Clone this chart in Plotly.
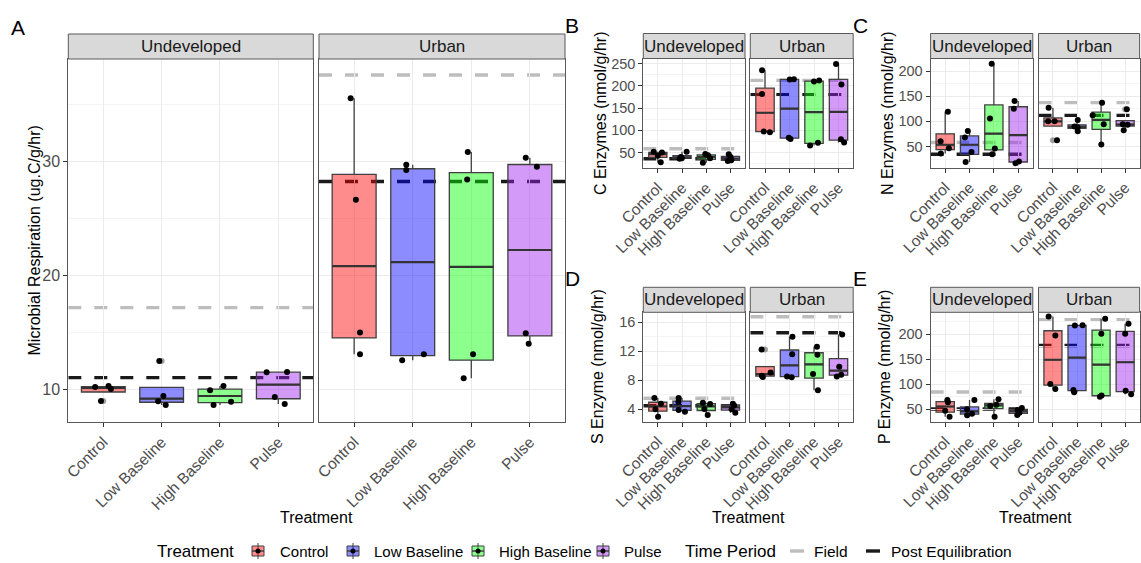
import numpy as np
import plotly.graph_objects as go

W, H = 1141, 563
FONT = "Liberation Sans, Arial, Helvetica, sans-serif"

TREATMENTS = ["Control", "Low Baseline", "High Baseline", "Pulse"]
SITES = ["Undeveloped", "Urban"]
FILLS = ["rgba(255,0,0,0.45)", "rgba(0,0,255,0.45)",
         "rgba(0,255,0,0.45)", "rgba(160,32,240,0.45)"]
TIME_PERIODS = ["Field", "Post Equilibration"]

# ---- replicate measurements, one list of four per treatment ----
RESP_UNDEVELOPED = [[10.18, 10.26, 10.00, 8.94], [8.92, 9.38, 8.59, 12.46],
                    [9.89, 10.26, 8.59, 8.88], [11.47, 11.50, 9.30, 8.68]]
RESP_URBAN = [[35.54, 26.63, 14.96, 13.06], [29.71, 29.24, 12.53, 13.06],
              [30.83, 28.42, 13.06, 10.95], [30.33, 29.53, 14.90, 13.97]]
RESP_FIELD = [17.15, 37.6]
RESP_POST = [11.0, 28.24]

C_UNDEVELOPED = [[52, 50, 28, 43], [52, 40, 37, 36], [47, 44, 27, 37], [46, 40, 31, 33]]
C_URBAN = [[235, 181.4, 97.4, 95.8], [214, 214.5, 83.1, 80.2],
           [212, 209.8, 71.9, 66], [249, 203, 79.7, 72.8]]
C_FIELD = [58.5, 212]
C_POST = [36.1, 180]

N_UNDEVELOPED = [[119.4, 60.5, 46.7, 36], [81, 67.9, 39.3, 19.4],
                 [214.7, 105.6, 46, 34.7], [140.5, 125.4, 17, 20]]
N_URBAN = [[127.4, 100.2, 100.2, 62.5], [103, 88.3, 80.4, 90],
           [137.3, 112.1, 94.2, 54], [124, 94.2, 82.3, 93.5]]
N_FIELD = [58, 137.3]
N_POST = [34.7, 112]

S_UNDEVELOPED = [[5.52, 4.74, 3.96, 2.94], [5.52, 4.96, 3.86, 3.63],
                 [4.87, 4.70, 4.00, 3.17], [4.74, 4.49, 3.49, 3.98]]
S_URBAN = [[12.26, 8.43, 9.07, 8.60], [14.0, 11.57, 8.39, 8.50],
           [12.62, 11.52, 8.84, 6.59], [14.34, 9.86, 8.52, 8.75]]
S_FIELD = [5.48, 16.78]
S_POST = [4.46, 14.56]

P_UNDEVELOPED = [[68.4, 63.8, 47, 35], [68.4, 50, 41, 38],
                 [69.8, 56.4, 35, 59.1], [48.4, 43, 38.4, 52.5]]
P_URBAN = [[235, 197, 100.4, 90.4], [217, 217.5, 88.4, 83.8],
           [230.4, 200.4, 77.5, 75], [220.4, 200.4, 87, 79.8]]
P_FIELD = [84.4, 228.4]
P_POST = [50.4, 177]

# horizontal jitter applied to the replicate points (category units)
JIT_RESP_UND = [[-0.14, 0.09, 0.13, -0.04], [-0.06, 0.03, 0.07, -0.04],
                [-0.17, 0.06, -0.11, 0.19], [-0.2, 0.15, -0.06, 0.11]]
JIT_RESP_URB = [[-0.06, 0.03, 0.1, 0.1], [-0.11, -0.11, -0.18, 0.19],
                [-0.06, -0.07, 0.03, -0.13], [-0.07, 0.12, -0.07, -0.02]]
JIT_C_UND = [[-0.17, 0.17, 0.12, 0.0], [0.19, -0.05, -0.01, -0.1],
             [-0.04, 0.07, -0.14, 0.16], [-0.07, 0.0, -0.11, 0.03]]
JIT_C_URB = [[-0.12, -0.12, -0.05, 0.2], [0.01, 0.18, -0.03, 0.04],
             [0.21, 0.0, 0.16, -0.16], [-0.1, 0.12, 0.1, 0.23]]
JIT_N_UND = [[0.11, -0.19, 0.15, -0.18], [-0.07, -0.19, 0.08, -0.16],
             [-0.09, -0.16, 0.04, -0.07], [-0.15, -0.18, -0.11, 0.03]]
JIT_N_URB = [[-0.18, -0.2, 0.07, 0.17], [0.03, 0.02, 0.03, -0.1],
             [0.04, -0.35, 0.11, 0.01], [0.07, -0.1, -0.06, 0.1]]
JIT_S_UND = [[-0.14, 0.13, -0.1, 0.01], [-0.14, -0.15, -0.14, 0.12],
             [-0.14, 0.16, -0.08, 0.06], [0.1, 0.15, 0.2, 0.05]]
JIT_S_URB = [[-0.14, -0.09, 0.23, -0.13], [0.12, 0.11, 0.09, -0.1],
             [0.12, 0.14, -0.04, 0.16], [0.15, 0.03, -0.07, 0.11]]
JIT_P_UND = [[0.09, 0.11, 0.0, 0.18], [0.2, -0.1, 0.1, -0.1],
             [0.19, -0.15, 0.03, 0.1], [-0.02, 0.05, -0.04, 0.15]]
JIT_P_URB = [[-0.18, 0.1, -0.11, 0.1], [-0.09, 0.23, -0.15, -0.12],
             [0.17, 0.01, 0.02, -0.05], [0.14, 0.0, 0.02, 0.25]]

BOX_WIDTH = 0.75


def px(x):
    return x / W


def py(y):
    return 1 - y / H


fig = go.Figure()
layout = dict(width=W, height=H, margin=dict(l=0, r=0, t=0, b=0, autoexpand=False),
              paper_bgcolor="white", plot_bgcolor="rgba(0,0,0,0)",
              font=dict(family=FONT), showlegend=False)
shapes, annotations = [], []

BORDER = "#595959"
GRID = "#EBEBEB"
MINOR = "#F4F4F4"
TICKTXT = "#4D4D4D"
BOXLINE = "#404040"


def box_stats(vals):
    v = np.asarray(vals, dtype=float)
    q1, med, q3 = np.percentile(v, [25, 50, 75])
    iqr = q3 - q1
    inside = v[(v >= q1 - 1.5 * iqr) & (v <= q3 + 1.5 * iqr)]
    out = v[(v < q1 - 1.5 * iqr) | (v > q3 + 1.5 * iqr)]
    return q1, med, q3, inside.min(), inside.max(), out


axis_counter = [0]


def add_panel(data_pair, jit_pair, field, post, xdoms, ydom, yrange, ticks, minor,
              ytitle, ytitle_x, tick_size, show_xtitle, label, label_xy):
    top, bottom = ydom
    for f, (data, jit, dom) in enumerate(zip(data_pair, jit_pair, xdoms)):
        axis_counter[0] += 1
        n = axis_counter[0]
        xa, ya = ("x%d" % n if n > 1 else "x"), ("y%d" % n if n > 1 else "y")
        xkey, ykey = "xaxis%d" % n if n > 1 else "xaxis", "yaxis%d" % n if n > 1 else "yaxis"
        layout[xkey] = dict(domain=[px(dom[0]), px(dom[1])], anchor=ya, range=[0.4, 4.6],
                            tickmode="array", tickvals=[1, 2, 3, 4], ticktext=TREATMENTS,
                            tickangle=-45, automargin=False,
                            tickfont=dict(size=15.5, color=TICKTXT, family=FONT),
                            showgrid=True, gridcolor=GRID, gridwidth=1, zeroline=False,
                            showline=True, mirror=True, linecolor=BORDER, linewidth=1,
                            ticks="outside", ticklen=4, tickcolor="#333333", tickwidth=1,
                            fixedrange=True)
        layout[ykey] = dict(domain=[py(bottom), py(top)], anchor=xa, range=yrange,
                            tickmode="array", tickvals=ticks, showticklabels=(f == 0),
                            automargin=False,
                            tickfont=dict(size=tick_size, color=TICKTXT, family=FONT),
                            showgrid=True, gridcolor=GRID, gridwidth=1, zeroline=False,
                            minor=dict(tickmode="array", tickvals=minor, showgrid=True,
                                       gridcolor=MINOR, gridwidth=1, ticks=""),
                            showline=True, mirror=True, linecolor=BORDER, linewidth=1,
                            ticks="outside" if f == 0 else "", ticklen=4,
                            tickcolor="#333333", tickwidth=1, fixedrange=True)
        # reference lines for the two time periods
        for val, col in ((field[f], "#BDBDBD"), (post[f], "#1A1A1A")):
            shapes.append(dict(type="line", xref=xa, yref=ya,
                               x0=0.4, x1=4.6, y0=val, y1=val, layer="below",
                               line=dict(color=col, width=3.4, dash="13px,13px")))
        # boxes, heavier median bars, outliers and replicate points
        for i, (vals, jt) in enumerate(zip(data, jit)):
            q1, med, q3, lo, hi, out = box_stats(vals)
            pos = i + 1
            fig.add_trace(go.Box(x=[pos], q1=[q1], median=[med], q3=[q3],
                                 lowerfence=[lo], upperfence=[hi], width=BOX_WIDTH,
                                 fillcolor=FILLS[i], whiskerwidth=0, boxpoints=False,
                                 line=dict(color=BOXLINE, width=1.3),
                                 hoverinfo="skip", xaxis=xa, yaxis=ya))
            fig.add_trace(go.Scatter(x=[pos - BOX_WIDTH / 2, pos + BOX_WIDTH / 2],
                                     y=[med, med], mode="lines",
                                     line=dict(color="#333333", width=2.2),
                                     hoverinfo="skip", xaxis=xa, yaxis=ya))
            if len(out):
                fig.add_trace(go.Scatter(x=[pos] * len(out), y=list(out), mode="markers",
                                         marker=dict(color="rgba(51,51,51,0.45)", size=6),
                                         hoverinfo="skip", xaxis=xa, yaxis=ya))
            fig.add_trace(go.Scatter(x=[pos + j for j in jt], y=vals, mode="markers",
                                     marker=dict(color="black", size=6),
                                     hoverinfo="skip", xaxis=xa, yaxis=ya))
        # facet strip
        s_top = top - 25
        shapes.append(dict(type="rect", xref="paper", yref="paper",
                           x0=px(dom[0]), x1=px(dom[1]), y0=py(top), y1=py(s_top),
                           fillcolor="#D9D9D9", line=dict(color=BORDER, width=1)))
        annotations.append(dict(text=SITES[f], xref="paper", yref="paper",
                                x=px((dom[0] + dom[1]) / 2), y=py((top + s_top) / 2),
                                xanchor="center", yanchor="middle", showarrow=False,
                                font=dict(size=17, color="#1A1A1A", family=FONT)))
    annotations.append(dict(text=ytitle, xref="paper", yref="paper", textangle=-90,
                            x=px(ytitle_x), y=py((top + bottom) / 2), xanchor="center",
                            yanchor="middle", showarrow=False,
                            font=dict(size=16, color="black", family=FONT)))
    if show_xtitle:
        annotations.append(dict(text="Treatment", xref="paper", yref="paper",
                                x=px((xdoms[0][0] + xdoms[1][1]) / 2), y=py(517),
                                xanchor="center", yanchor="middle", showarrow=False,
                                font=dict(size=16, color="black", family=FONT)))
    annotations.append(dict(text=label, xref="paper", yref="paper",
                            x=px(label_xy[0]), y=py(label_xy[1]), xanchor="center",
                            yanchor="middle", showarrow=False,
                            font=dict(size=21, color="black", family=FONT)))


COL_B = [(643.3, 745.0), (750.3, 853.2)]
COL_C = [(930.6, 1032.8), (1038.5, 1139.6)]

add_panel((RESP_UNDEVELOPED, RESP_URBAN), (JIT_RESP_UND, JIT_RESP_URB), RESP_FIELD, RESP_POST,
          [(68.3, 313.3), (319.0, 565.0)], (59.0, 422.0), [7.1, 39.0], [10, 20, 30],
          [15, 25, 35], "Microbial Respiration (ug.C/g/hr)", 34, 16, True, "A", (18, 27))
add_panel((C_UNDEVELOPED, C_URBAN), (JIT_C_UND, JIT_C_URB), C_FIELD, C_POST,
          COL_B, (58.5, 167.7), [16, 261.2], [50, 100, 150, 200, 250],
          [25, 75, 125, 175, 225], "C Enzymes (nmol/g/hr)", 600, 14.5, False, "B", (572, 25))
add_panel((N_UNDEVELOPED, N_URBAN), (JIT_N_UND, JIT_N_URB), N_FIELD, N_POST,
          COL_C, (58.5, 167.5), [8.3, 225.2], [50, 100, 150, 200],
          [25, 75, 125, 175, 225], "N Enzymes (nmol/g/hr)", 888, 14.5, False, "C", (860, 25))
add_panel((S_UNDEVELOPED, S_URBAN), (JIT_S_UND, JIT_S_URB), S_FIELD, S_POST,
          COL_B, (312.3, 421.7), [2.24, 17.4], [4, 8, 12, 16],
          [6, 10, 14], "S Enzyme (nmol/g/hr)", 597, 14.5, True, "D", (572, 278))
add_panel((P_UNDEVELOPED, P_URBAN), (JIT_P_UND, JIT_P_URB), P_FIELD, P_POST,
          COL_C, (312.3, 421.7), [25.1, 243.3], [50, 100, 150, 200],
          [75, 125, 175, 225], "P Enzyme (nmol/g/hr)", 884, 14.5, True, "E", (860, 278))

# ---- legend ----
LY = 551


def legend_text(txt, x, size):
    annotations.append(dict(text=txt, xref="paper", yref="paper", x=px(x), y=py(LY),
                            xanchor="left", yanchor="middle", showarrow=False,
                            font=dict(size=size, color="black", family=FONT)))


legend_text("Treatment", 155, 17)
key_centers = [258, 353, 478, 603]
label_left = [278, 372, 497, 622]
for i, name in enumerate(TREATMENTS):
    cx = key_centers[i]
    shapes.append(dict(type="line", xref="paper", yref="paper", x0=px(cx), x1=px(cx),
                       y0=py(LY - 8), y1=py(LY + 8), line=dict(color=BOXLINE, width=1)))
    shapes.append(dict(type="rect", xref="paper", yref="paper", x0=px(cx - 6), x1=px(cx + 6),
                       y0=py(LY - 5), y1=py(LY + 5), fillcolor=FILLS[i],
                       line=dict(color=BOXLINE, width=1)))
    shapes.append(dict(type="line", xref="paper", yref="paper", x0=px(cx - 6), x1=px(cx + 6),
                       y0=py(LY), y1=py(LY), line=dict(color=BOXLINE, width=1.5)))
    shapes.append(dict(type="circle", xref="paper", yref="paper", x0=px(cx - 2.5),
                       x1=px(cx + 2.5), y0=py(LY - 2.5), y1=py(LY + 2.5),
                       fillcolor="black", line=dict(width=0)))
    legend_text(name, label_left[i], 15)

legend_text("Time Period", 683, 17)
for (x0, col), name, lx in zip(((790, "#BDBDBD"), (866, "#1A1A1A")), TIME_PERIODS, (812, 889)):
    shapes.append(dict(type="line", xref="paper", yref="paper", x0=px(x0), x1=px(x0 + 14),
                       y0=py(LY), y1=py(LY), line=dict(color=col, width=3.4)))
    legend_text(name, lx, 15.5)

layout["shapes"] = shapes
layout["annotations"] = annotations
fig.update_layout(**layout)
fig.write_html("out.html")
